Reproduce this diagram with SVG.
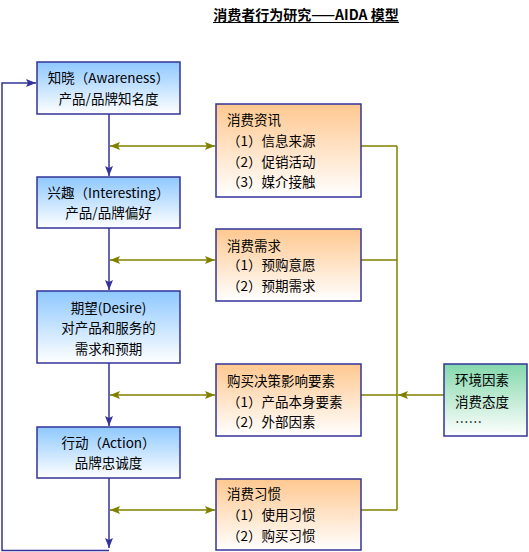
<svg xmlns="http://www.w3.org/2000/svg" width="529" height="552" viewBox="0 0 529 552">
<style>
text{font-family:"Noto Sans CJK SC","Liberation Sans",sans-serif;font-size:13.5px;fill:#000}
.c{text-anchor:middle}
.box{stroke:#333399;stroke-width:1.5}
.blue{fill:url(#gb)}
.orange{fill:url(#go)}
.green{fill:url(#gg)}
.bl{stroke:#333399;stroke-width:1.5;fill:none}
.ol{stroke:#808000;stroke-width:1.5;fill:none}
.title{font-weight:bold;font-size:14px}
</style>
<defs>
<linearGradient id="gb" x1="0" y1="0" x2="0" y2="1"><stop offset="0" stop-color="#8EC8FF"/><stop offset="1" stop-color="#FFFFFF"/></linearGradient>
<linearGradient id="go" x1="0" y1="0" x2="0" y2="1"><stop offset="0" stop-color="#FFC890"/><stop offset="1" stop-color="#FFFFFF"/></linearGradient>
<linearGradient id="gg" x1="0" y1="0" x2="0" y2="1"><stop offset="0" stop-color="#84D8AC"/><stop offset="1" stop-color="#FFFFFF"/></linearGradient>
<marker id="ab" viewBox="0 0 10 8" refX="10" refY="4" markerWidth="10" markerHeight="8" markerUnits="userSpaceOnUse" orient="auto-start-reverse"><path d="M0,0 L10,4 L0,8 L2,4 z" fill="#333399"/></marker>
<marker id="ao" viewBox="0 0 10 8" refX="10" refY="4" markerWidth="10" markerHeight="8" markerUnits="userSpaceOnUse" orient="auto-start-reverse"><path d="M0,0 L10,4 L0,8 L2,4 z" fill="#808000"/></marker>
</defs>
<rect width="529" height="552" fill="#FFFFFF"/>
<g id="title">
<text class="title c" x="306" y="20">消费者行为研究——AIDA 模型</text>
<line x1="213" y1="22.5" x2="399" y2="22.5" stroke="#000" stroke-width="1"/>
</g>
<g id="connectors">
<path class="bl" d="M109,114 V176" marker-end="url(#ab)"/>
<path class="bl" d="M109,228 V290" marker-end="url(#ab)"/>
<path class="bl" d="M109,363 V426" marker-end="url(#ab)"/>
<path class="bl" d="M109,478 V548" marker-end="url(#ab)"/>
<path class="bl" d="M109,550.5 H2 V83 H36" marker-end="url(#ab)"/>
<path class="ol" d="M110,146 H215" marker-start="url(#ao)" marker-end="url(#ao)"/>
<path class="ol" d="M110,260 H215" marker-start="url(#ao)" marker-end="url(#ao)"/>
<path class="ol" d="M110,395 H215" marker-start="url(#ao)" marker-end="url(#ao)"/>
<path class="ol" d="M110,510 H215" marker-start="url(#ao)" marker-end="url(#ao)"/>
<path class="ol" d="M361,146 H397 M361,260 H397 M361,395 H397 M361,510 H397 M397,146 V510"/>
<path class="ol" d="M444,395 H398" marker-end="url(#ao)"/>
</g>
<g id="awareness">
<rect class="box blue" x="37" y="62" width="143" height="52"/>
<text class="c" x="108.5" y="83">知晓（Awareness）</text>
<text class="c" x="108.5" y="104">产品/品牌知名度</text>
</g>
<g id="interesting">
<rect class="box blue" x="37" y="177" width="143" height="51"/>
<text class="c" x="108.5" y="198">兴趣（Interesting）</text>
<text class="c" x="108.5" y="218">产品/品牌偏好</text>
</g>
<g id="desire">
<rect class="box blue" x="37" y="291" width="143" height="72"/>
<text class="c" x="108.5" y="313">期望(Desire)</text>
<text class="c" x="108.5" y="333">对产品和服务的</text>
<text class="c" x="108.5" y="354">需求和预期</text>
</g>
<g id="action">
<rect class="box blue" x="37" y="427" width="143" height="51"/>
<text class="c" x="108.5" y="448">行动（Action）</text>
<text class="c" x="108.5" y="468">品牌忠诚度</text>
</g>
<g id="info">
<rect class="box orange" x="216" y="104" width="145" height="93"/>
<text x="227" y="125">消费资讯</text>
<text x="227" y="146">（1）信息来源</text>
<text x="227" y="167">（2）促销活动</text>
<text x="227" y="187">（3）媒介接触</text>
</g>
<g id="demand">
<rect class="box orange" x="216" y="229" width="145" height="72"/>
<text x="227" y="251">消费需求</text>
<text x="227" y="270">（1）预购意愿</text>
<text x="227" y="291">（2）预期需求</text>
</g>
<g id="factors">
<rect class="box orange" x="216" y="364" width="145" height="72"/>
<text x="227" y="386">购买决策影响要素</text>
<text x="227" y="407">（1）产品本身要素</text>
<text x="227" y="427">（2）外部因素</text>
</g>
<g id="habits">
<rect class="box orange" x="216" y="479" width="145" height="71"/>
<text x="227" y="499">消费习惯</text>
<text x="227" y="520">（1）使用习惯</text>
<text x="227" y="541">（2）购买习惯</text>
</g>
<g id="environment">
<rect class="box green" x="444" y="364" width="83" height="72"/>
<text x="455" y="385">环境因素</text>
<text x="455" y="407">消费态度</text>
<text x="455" y="427">……</text>
</g>
</svg>
